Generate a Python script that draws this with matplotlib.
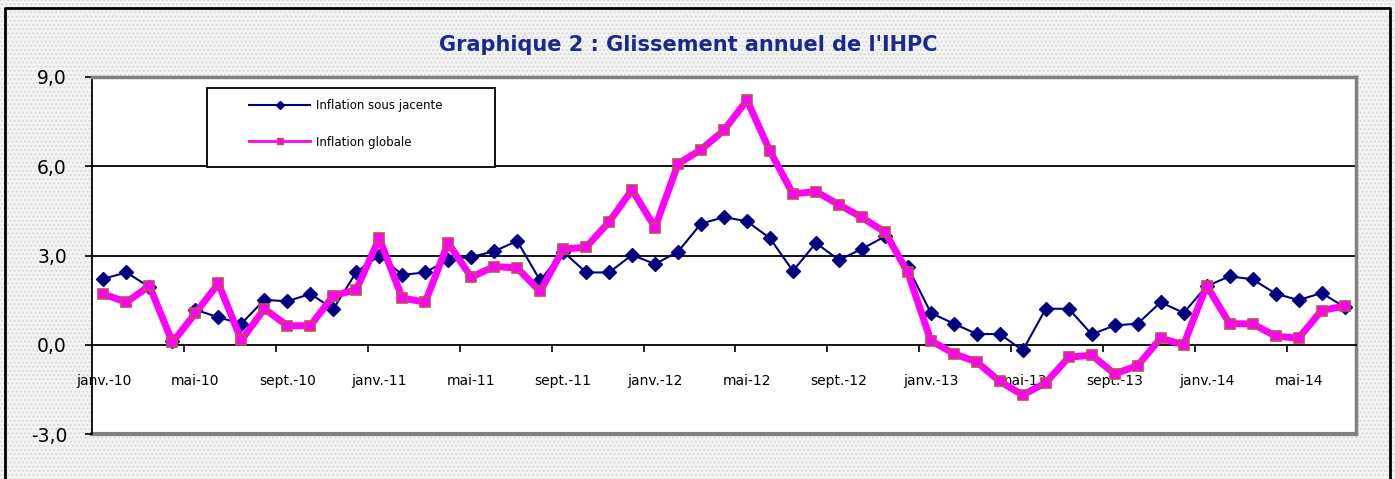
"""
Graphique 2 : glissement annuel de l'IHPC (janv.-10 a juil.-14)
"""
import matplotlib
matplotlib.use("Agg")
from matplotlib import pyplot as plt
from matplotlib.lines import Line2D
from matplotlib.patches import Rectangle
import numpy as np

months = ["janv.", "févr.", "mars", "avr.", "mai", "juin",
          "juil.", "août", "sept.", "oct.", "nov.", "déc."]
categories = ["%s-%02d" % (m, y) for y in range(10, 15) for m in months][:55]

# inflation sous jacente (%)
core = [2.22, 2.43, 1.94, 0.12, 1.18, 0.92, 0.71, 1.51, 1.46, 1.71,
        1.20, 2.44, 3.00, 2.35, 2.43, 2.86, 2.95, 3.14, 3.49, 2.16,
        3.13, 2.43, 2.43, 3.02, 2.71, 3.13, 4.07, 4.29, 4.15, 3.58,
        2.48, 3.42, 2.85, 3.22, 3.64, 2.61, 1.07, 0.71, 0.36, 0.36,
        -0.19, 1.21, 1.21, 0.35, 0.65, 0.71, 1.43, 1.07, 1.97, 2.30,
        2.20, 1.72, 1.50, 1.74, 1.27]

# inflation globale (%)
headline = [1.70, 1.43, 1.98, 0.08, 1.06, 2.06, 0.15, 1.21, 0.64, 0.64,
            1.65, 1.85, 3.58, 1.57, 1.43, 3.42, 2.27, 2.63, 2.58, 1.79,
            3.21, 3.28, 4.13, 5.21, 3.94, 6.08, 6.56, 7.21, 8.22, 6.51,
            5.07, 5.15, 4.71, 4.28, 3.79, 2.43, 0.14, -0.30, -0.58, -1.23,
            -1.69, -1.28, -0.42, -0.35, -0.98, -0.70, 0.22, 0.00, 1.99, 0.71,
            0.70, 0.29, 0.22, 1.15, 1.30]

yticks = [-3, 0, 3, 6, 9]

NAVY = "#000080"
MAGENTA = "#FF00FF"
BROWN = "#C0504D"

fig = plt.figure(figsize=(13.95, 4.79), dpi=100)
fig.patch.set_facecolor("white")

# dotted background + outer frame
bg = Rectangle((0, 0), 1, 1, transform=fig.transFigure, facecolor="#f4f4f4",
               edgecolor="#d9d9d9", hatch="....", linewidth=0, zorder=-10)
fig.patches.append(bg)
frame = Line2D([5 / 1395, 5 / 1395, 1390 / 1395, 1390 / 1395],
               [0, 1 - 8 / 479, 1 - 8 / 479, 0], transform=fig.transFigure,
               color="black", linewidth=2)
fig.lines.append(frame)

ax = fig.add_axes([92 / 1395, 1 - 434 / 479, 1264 / 1395, 357 / 479])
ax.set_facecolor("white")

x = np.arange(len(categories))
ax.plot(x, core, color=NAVY, linewidth=1.5, marker="D", markersize=7.5,
        markerfacecolor=NAVY, markeredgecolor=NAVY, zorder=3)
ax.plot(x, headline, color=MAGENTA, linewidth=5, marker="s", markersize=6.5,
        markerfacecolor=MAGENTA, markeredgecolor=BROWN, markeredgewidth=1.2,
        zorder=4)

ax.set_xlim(-0.5, len(categories) - 0.5)
ax.set_ylim(-3, 9)

for v in [3, 6]:
    ax.axhline(v, color="black", linewidth=1.3, zorder=1)
ax.axhline(-3, color="#808080", linewidth=3, clip_on=False, zorder=1)

for s in ["top", "right"]:
    ax.spines[s].set_color("#808080")
    ax.spines[s].set_linewidth(2.5)
ax.spines["left"].set_color("black")
ax.spines["left"].set_linewidth(1.3)
ax.spines["bottom"].set_position(("data", 0))
ax.spines["bottom"].set_linewidth(1.3)

ax.set_yticks(yticks)
ax.set_yticklabels([("%.1f" % v).replace(".", ",") for v in yticks])
ax.tick_params(axis="y", direction="out", length=5, width=1.2, pad=13,
               labelsize=13.5)

label_pos = x[::4]
ax.set_xticks(label_pos)
ax.set_xticklabels([categories[i] for i in label_pos])
ax.set_xticks(np.arange(3.5, len(categories) - 0.5, 4), minor=True)
ax.tick_params(axis="x", which="major", length=0, pad=21, labelsize=10)
ax.tick_params(axis="x", which="minor", direction="out", length=5, width=1.2)

# legend box
box = Rectangle((115 / 1264, 267 / 357), 288 / 1264, 79 / 357,
                transform=ax.transAxes, facecolor="white", edgecolor="black",
                linewidth=1.3, zorder=5)
ax.add_patch(box)
handles = [Line2D([], [], color=NAVY, linewidth=1.5, marker="D", markersize=4),
           Line2D([], [], color=MAGENTA, linewidth=2, marker="s", markersize=4.5,
                  markerfacecolor=MAGENTA, markeredgecolor=BROWN)]
leg = ax.legend(handles, ["Inflation sous jacente", "Inflation globale"],
                loc="upper left", bbox_to_anchor=(157 / 1264, 335 / 357),
                frameon=False, fontsize=8.5, borderpad=0, borderaxespad=0,
                handlelength=5.2, handletextpad=0.45, labelspacing=2.0)
leg.set_zorder(6)

fig.text(688 / 1395, 1 - 45 / 479, "Graphique 2 : Glissement annuel de l'IHPC",
         ha="center", va="center", fontsize=15, fontweight="bold",
         color="#1a2a8c", family="DejaVu Sans")

fig.savefig("out.png", dpi=100)
